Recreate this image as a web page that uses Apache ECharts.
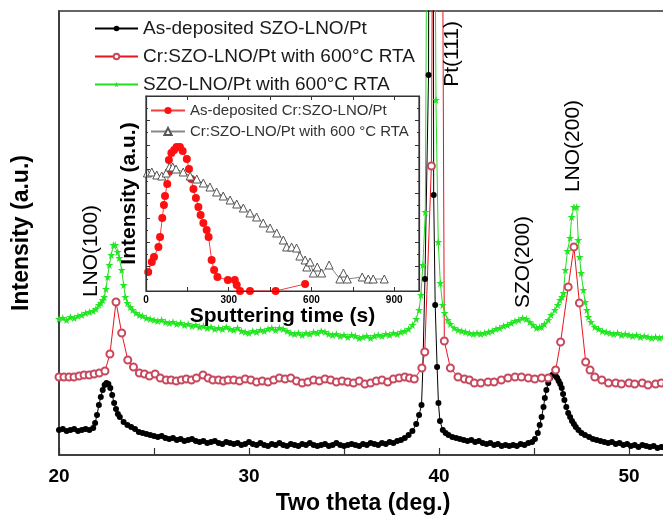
<!DOCTYPE html>
<html>
<head>
<meta charset="utf-8">
<script src="https://cdn.jsdelivr.net/npm/echarts@6/dist/echarts.min.js"></script>
<style>
  html, body { margin: 0; padding: 0; background: #fff; }
  #chart { width: 663px; height: 515px; }
</style>
</head>
<body>
<div id="chart"></div>
<script>
// 主图 XRD 数据 [2theta, 强度(任意单位)]
var blackData = [
  [20.0,25],[20.2,26],[20.4,24],[20.6,25],[20.8,26],[21.0,24],[21.2,25],[21.4,26],[21.6,25],[21.8,27],
  [21.9,32],[22.0,40],[22.1,50],[22.2,58],[22.3,65],[22.4,70],[22.5,72],[22.6,71],[22.7,67],[22.8,60],
  [22.9,52],[23.0,46],[23.1,41],[23.2,38],[23.4,33],[23.6,30],[23.8,28],[24.0,26],[24.2,23],[24.4,22],
  [24.6,21],[24.8,20],[25.0,19],[25.2,18],[25.4,19],[25.6,17],[25.8,16],[26.0,17],[26.2,15],[26.4,16],
  [26.6,14],[26.8,15],[27.0,16],[27.2,14],[27.4,13],[27.6,14],[27.8,12],[28.0,13],[28.2,14],[28.4,12],
  [28.6,11],[28.8,13],[29.0,12],[29.2,11],[29.4,12],[29.6,10],[29.8,11],[30.0,13],[30.2,11],[30.4,10],
  [30.6,12],[30.8,10],[31.0,9],[31.2,11],[31.4,10],[31.6,12],[31.8,10],[32.0,9],[32.2,11],[32.4,10],
  [32.6,9],[32.8,11],[33.0,10],[33.2,12],[33.4,10],[33.6,9],[33.8,10],[34.0,11],[34.2,9],[34.4,10],
  [34.6,12],[34.8,10],[35.0,9],[35.2,10],[35.4,11],[35.6,10],[35.8,9],[36.0,11],[36.2,10],[36.4,12],
  [36.6,11],[36.8,10],[37.0,12],[37.2,11],[37.4,13],[37.6,12],[37.8,14],[38.0,15],[38.2,17],[38.4,20],
  [38.6,24],[38.8,31],[38.95,40],[39.08,50],[39.15,87],[39.26,176],[39.45,380],[39.6,2000],[39.72,260],[39.8,150],
  [39.9,88],[39.97,52],[40.05,34],[40.2,25],[40.35,22],[40.5,20],[40.7,18],[40.9,17],[41.1,16],[41.3,15],
  [41.5,14],[41.7,15],[41.9,13],[42.1,14],[42.3,12],[42.5,11],[42.7,12],[42.9,10],[43.1,11],[43.3,9],
  [43.5,10],[43.7,9],[43.9,10],[44.1,9],[44.3,11],[44.5,10],[44.7,12],[44.9,13],[45.05,16],[45.2,22],
  [45.3,30],[45.4,38],[45.5,48],[45.57,57],[45.65,65],[45.75,72],[45.85,77],[45.96,80],[46.05,80],[46.14,79],
  [46.22,77],[46.3,74],[46.38,71],[46.46,67],[46.53,61],[46.6,55],[46.7,48],[46.8,42],[46.9,38],[47.0,34],
  [47.1,31],[47.2,28],[47.34,25],[47.5,22],[47.68,20],[47.9,18],[48.1,16],[48.3,15],[48.5,14],[48.7,13],
  [48.9,12],[49.1,13],[49.3,11],[49.5,12],[49.7,10],[49.9,11],[50.1,9],[50.3,10],[50.5,8],[50.7,10],
  [50.9,9],[51.1,8],[51.3,9],[51.5,7],[51.7,8],[51.9,7],[52.1,8]
]

var redData = [
  [20.0,78],[20.26,78],[20.53,78],[20.79,78],[21.06,79],[21.32,80],[21.59,80],[21.85,81],[22.12,82],[22.42,84],
  [22.68,101],[23.0,153],[23.3,122],[23.62,95],[23.92,88],[24.23,82],[24.5,81],[24.76,79],[25.06,81],[25.33,77],
  [25.64,75],[25.9,75],[26.17,74],[26.44,75],[26.7,76],[26.97,75],[27.23,77],[27.58,80],[27.85,77],[28.1,75],
  [28.4,75],[28.66,74],[28.9,75],[29.2,75],[29.5,74],[29.8,76],[30.1,75],[30.4,73],[30.7,74],[31.0,73],
  [31.3,75],[31.6,77],[31.9,76],[32.2,77],[32.5,74],[32.8,72],[33.1,73],[33.4,75],[33.7,74],[34.0,76],
  [34.3,75],[34.6,73],[34.9,74],[35.2,73],[35.5,72],[35.8,74],[36.1,71],[36.4,72],[36.7,74],[37.0,75],
  [37.3,73],[37.6,76],[37.9,77],[38.2,78],[38.45,77],[38.7,76],[39.1,87],[39.25,103],[39.6,289],[39.75,900],
  [39.95,1400],[40.15,700],[40.28,114],[40.6,87],[41.0,78],[41.34,76],[41.6,75],[41.86,72],[42.2,72],[42.58,73],
  [42.9,73],[43.28,75],[43.63,77],[44.0,78],[44.34,78],[44.7,77],[45.04,76],[45.4,77],[45.75,77],[46.14,85],
  [46.4,113],[46.8,168],[47.1,208],[47.39,152],[47.72,93],[47.95,85],[48.2,78],[48.57,75],[48.92,72],[49.3,72],
  [49.6,71],[50.0,72],[50.3,71],[50.7,72],[51.0,70],[51.4,71],[51.7,72],[52.0,71]
]

var greenData = [
  [20.0,136],[20.2,137],[20.4,135],[20.6,138],[20.8,137],[21.0,139],[21.2,140],[21.4,142],[21.6,143],[21.8,144],
  [21.94,146],[22.1,150],[22.2,152],[22.3,155],[22.38,158],[22.47,166],[22.56,178],[22.65,190],[22.75,200],[22.86,210],
  [22.96,210],[23.09,203],[23.17,197],[23.3,185],[23.4,170],[23.49,158],[23.6,152],[23.75,148],[23.88,145],[24.05,142],
  [24.23,140],[24.4,139],[24.6,137],[24.8,136],[25.0,135],[25.2,134],[25.4,135],[25.6,133],[25.8,132],[26.0,133],
  [26.2,131],[26.4,132],[26.6,130],[26.8,131],[27.0,129],[27.2,130],[27.4,128],[27.6,129],[27.8,127],[28.0,128],
  [28.2,126],[28.4,127],[28.6,126],[28.8,128],[29.0,126],[29.2,125],[29.4,127],[29.6,124],[29.8,123],[30.0,122],
  [30.2,124],[30.4,123],[30.6,125],[30.8,124],[31.0,126],[31.2,127],[31.4,125],[31.6,127],[31.8,126],[32.0,124],
  [32.2,122],[32.4,121],[32.6,122],[32.8,120],[33.0,122],[33.2,121],[33.4,123],[33.6,122],[33.8,124],[34.0,123],
  [34.2,121],[34.4,120],[34.6,121],[34.8,119],[35.0,120],[35.2,118],[35.4,120],[35.6,119],[35.8,117],[36.0,118],
  [36.2,119],[36.4,117],[36.6,119],[36.8,120],[37.0,119],[37.2,121],[37.4,120],[37.6,122],[37.8,121],[38.0,123],
  [38.2,124],[38.4,126],[38.6,130],[38.8,136],[38.95,145],[39.05,160],[39.15,190],[39.28,243],[39.45,900],[39.6,1500],
  [39.75,700],[39.84,355],[39.96,213],[40.07,172],[40.19,150],[40.3,142],[40.46,135],[40.6,131],[40.8,127],[41.0,125],
  [41.2,124],[41.4,123],[41.6,122],[41.8,121],[42.0,122],[42.2,121],[42.4,122],[42.6,123],[42.8,124],[43.0,126],
  [43.2,127],[43.4,129],[43.6,130],[43.8,132],[44.0,134],[44.2,135],[44.4,137],[44.6,136],[44.78,133],[44.95,130],
  [45.13,127],[45.3,128],[45.4,128],[45.55,131],[45.75,135],[45.9,140],[46.1,145],[46.25,150],[46.37,155],[46.47,158],
  [46.55,162],[46.65,185],[46.76,204],[46.9,217],[46.98,238],[47.1,248],[47.25,248],[47.33,215],[47.4,198],[47.48,182],
  [47.6,165],[47.69,153],[47.78,145],[47.86,138],[48.0,133],[48.2,128],[48.4,126],[48.6,124],[48.8,123],[49.0,122],
  [49.2,121],[49.4,122],[49.6,120],[49.8,121],[50.0,120],[50.2,119],[50.4,120],[50.6,118],[50.8,119],[51.0,118],
  [51.2,117],[51.4,118],[51.6,117],[51.8,118],[52.0,117]
]

// 插图：溅射时间 [s, 强度]
var insetRed = [
  [8,19],[21,29],[29,34],[45,44],[51,54],[59,73],[65,86],[69,95],[77,107],[83,119],
  [83,131],[92,138],[102,141],[111,144],[123,144],[133,140],[148,132],[156,122],[164,112],[172,102],
  [181,93],[190,84],[198,76],[208,68],[220,61],[227,54],[238,31],[247,21],[259,14],[297,11],
  [322,11],[329,6],[341,0],[377,0],[470,0],[577,7]
]

var insetGray = [
  [5,118],[21,119],[39,116],[57,115],[73,118],[85,124],[97,124],[109,122],[135,119],[160,115],
  [184,112],[208,108],[232,104],[256,99],[280,95],[305,91],[329,87],[353,83],[377,78],[401,74],
  [425,68],[450,63],[474,58],[498,51],[510,44],[528,44],[546,43],[558,35],[577,31],[583,24],
  [595,29],[607,18],[621,24],[637,18],[664,26],[703,12],[716,18],[730,12],[784,14],[806,12],
  [824,12],[864,12]
]

var mainNames = ['As-deposited SZO-LNO/Pt', 'Cr:SZO-LNO/Pt with 600°C RTA', 'SZO-LNO/Pt with 600°C RTA']
var insetNames = ['As-deposited Cr:SZO-LNO/Pt', 'Cr:SZO-LNO/Pt with 600 °C RTA']
var xTicks = [20, 30, 40, 50]
var insetTicks = [0, 300, 600, 900]

// 峰位标注
var peakLabels = [
  { text: 'LNO(100)', x: 91, y: 251 },
  { text: 'Pt(111)', x: 452, y: 54 },
  { text: 'SZO(200)', x: 523, y: 262 },
  { text: 'LNO(200)', x: 573, y: 146 }
]

var FONT = 'Liberation Sans, Arial, sans-serif'
var STAR = 'path://M50,0 L61,35 L98,35 L68,57 L79,91 L50,70 L21,91 L32,57 L2,35 L39,35 Z'
var AX = '#333'

var chart = echarts.init(document.getElementById('chart'))

// 插图坐标轴统一放在插图背景之上
function insetAxis(o) {
  o.z = 8
  return o
}

var option = {
  backgroundColor: '#fff',
  animation: false,
  grid: [
    {
      left: 59, top: 11, right: -4, bottom: 60, outerBoundsMode: 'none',
      show: true, borderColor: AX, borderWidth: 1.5, backgroundColor: 'transparent'
    },
    {
      left: 146, top: 96, width: 273, height: 195, outerBoundsMode: 'none',
      show: true, backgroundColor: '#fff', borderColor: AX, borderWidth: 1.2, z: 5
    }
  ],
  legend: [
    {
      data: mainNames,
      orient: 'vertical',
      left: 94, top: 19, padding: 0,
      itemWidth: 43, itemHeight: 7, itemGap: 9,
      textStyle: { fontFamily: FONT, fontSize: 19, color: '#1a1a1a' }
    },
    {
      data: insetNames,
      orient: 'vertical',
      left: 150, top: 103, padding: 0,
      itemWidth: 34, itemHeight: 9, itemGap: 6, z: 10,
      textStyle: { fontFamily: FONT, fontSize: 15, color: '#333' }
    }
  ],
  xAxis: [
    {
      gridIndex: 0, type: 'value', min: 20, max: 52, interval: 5,
      name: 'Two theta (deg.)', nameLocation: 'middle', nameGap: 37,
      nameTextStyle: { fontFamily: FONT, fontSize: 23, fontWeight: 'bold', color: '#000' },
      axisLine: { lineStyle: { color: AX, width: 1.5 } },
      axisTick: { inside: true, length: 7, lineStyle: { color: AX, width: 1.2 } },
      axisLabel: {
        margin: 12, fontFamily: FONT, fontSize: 19, fontWeight: 'bold', color: '#000',
        formatter: function (v) { return xTicks.indexOf(v) >= 0 ? String(v) : '' }
      },
      splitLine: { show: false }
    },
    insetAxis({
      gridIndex: 1, type: 'value', min: 0, max: 990, interval: 150,
      name: 'Sputtering time (s)', nameLocation: 'middle', nameGap: 10,
      nameTextStyle: { fontFamily: FONT, fontSize: 21, fontWeight: 'bold', color: '#000' },
      axisLine: { lineStyle: { color: AX, width: 1.2 } },
      axisTick: { inside: true, length: 4, lineStyle: { color: AX } },
      axisLabel: {
        margin: 4, fontFamily: FONT, fontSize: 10, fontWeight: 'bold', color: '#000',
        formatter: function (v) { return insetTicks.indexOf(v) >= 0 ? String(v) : '' }
      },
      splitLine: { show: false }
    }),
    insetAxis({
      gridIndex: 1, type: 'value', position: 'top', min: 0, max: 990, interval: 150,
      axisLine: { show: true, onZero: false, lineStyle: { color: AX, width: 1.2 } },
      axisTick: { inside: true, length: 4, lineStyle: { color: AX } },
      axisLabel: { show: false }, splitLine: { show: false }
    })
  ],
  yAxis: [
    {
      gridIndex: 0, type: 'value', min: 0, max: 444,
      name: 'Intensity (a.u.)', nameLocation: 'middle', nameGap: 26,
      nameTextStyle: { fontFamily: FONT, fontSize: 23, fontWeight: 'bold', color: '#000' },
      axisLine: { show: true, lineStyle: { color: AX, width: 1.5 } },
      axisTick: { show: false }, axisLabel: { show: false }, splitLine: { show: false }
    },
    insetAxis({
      gridIndex: 1, type: 'value', min: 0, max: 195, interval: 24.375,
      name: 'Intensity (a.u.)', nameLocation: 'middle', nameGap: 6,
      nameTextStyle: { fontFamily: FONT, fontSize: 21, fontWeight: 'bold', color: '#000' },
      axisLine: { show: true, lineStyle: { color: AX, width: 1.2 } },
      axisTick: { inside: true, length: 4, lineStyle: { color: AX } },
      minorTick: { show: true, splitNumber: 2, length: 2, lineStyle: { color: AX } },
      axisLabel: { show: false }, splitLine: { show: false }
    }),
    insetAxis({
      gridIndex: 1, type: 'value', position: 'right', min: 0, max: 195, interval: 24.375,
      axisLine: { show: true, onZero: false, lineStyle: { color: AX, width: 1.2 } },
      axisTick: { inside: true, length: 4, lineStyle: { color: AX } },
      minorTick: { show: true, splitNumber: 2, length: 2, lineStyle: { color: AX } },
      axisLabel: { show: false }, splitLine: { show: false }
    })
  ],
  graphic: peakLabels.map(function (p) {
    return {
      type: 'text', x: p.x, y: p.y, rotation: Math.PI / 2, z: 20,
      style: { text: p.text, fontFamily: FONT, fontSize: 21, fill: '#000', textAlign: 'center', textVerticalAlign: 'middle' }
    }
  }),
  series: [
    {
      name: mainNames[0], type: 'line', xAxisIndex: 0, yAxisIndex: 0, data: blackData,
      symbol: 'circle', symbolSize: 6, showAllSymbol: true,
      lineStyle: { color: '#000', width: 1 }, itemStyle: { color: '#000' }
    },
    {
      name: mainNames[1], type: 'line', xAxisIndex: 0, yAxisIndex: 0, data: redData,
      symbol: 'emptyCircle', symbolSize: 7, showAllSymbol: true,
      lineStyle: { color: '#e8141e', width: 1 }, itemStyle: { color: '#c8485e', borderWidth: 1 }
    },
    {
      name: mainNames[2], type: 'line', xAxisIndex: 0, yAxisIndex: 0, data: greenData,
      symbol: STAR, symbolSize: 8, showAllSymbol: true,
      lineStyle: { color: '#22dd22', width: 1 }, itemStyle: { color: '#22e622' }
    },
    {
      name: insetNames[0], type: 'line', xAxisIndex: 1, yAxisIndex: 1, data: insetRed, z: 7,
      symbol: 'circle', symbolSize: 8, showAllSymbol: true,
      lineStyle: { color: '#f04040', width: 1 }, itemStyle: { color: '#ff1010' }
    },
    {
      name: insetNames[1], type: 'line', xAxisIndex: 1, yAxisIndex: 1, data: insetGray, z: 7,
      symbol: 'triangle', symbolSize: 8, showAllSymbol: true,
      lineStyle: { color: '#888', width: 1 },
      itemStyle: { color: '#fff', borderColor: '#555', borderWidth: 1 }
    }
  ]
}

chart.setOption(option)
window.addEventListener('resize', chart.resize)
</script>
</body>
</html>
